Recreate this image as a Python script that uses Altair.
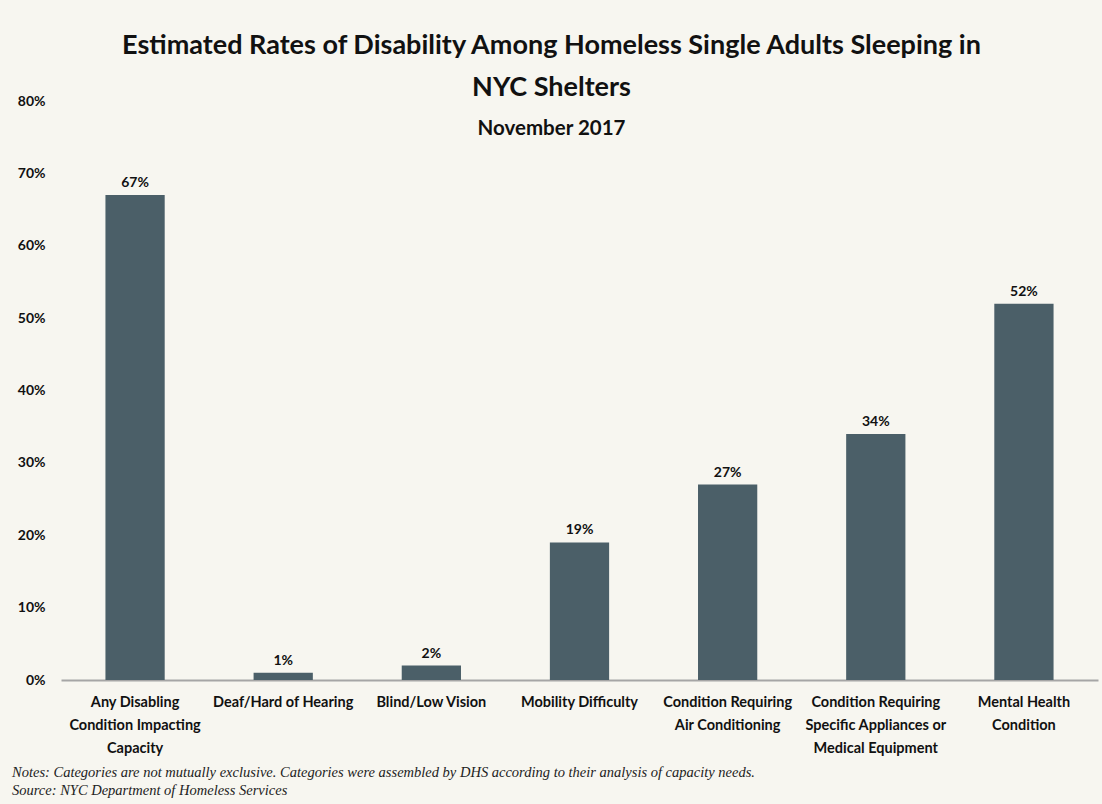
import altair as alt
import pandas as pd

categories = [
    ["Any Disabling", "Condition Impacting", "Capacity"],
    ["Deaf/Hard of Hearing"],
    ["Blind/Low Vision"],
    ["Mobility Difficulty"],
    ["Condition Requiring", "Air Conditioning"],
    ["Condition Requiring", "Specific Appliances or", "Medical Equipment"],
    ["Mental Health", "Condition"],
]
values = [0.67, 0.01, 0.02, 0.19, 0.27, 0.34, 0.52]
y_ticks = [0, 0.1, 0.2, 0.3, 0.4, 0.5, 0.6, 0.7, 0.8]
note_lines = [
    "Notes: Categories are not mutually exclusive. Categories were assembled by DHS according to their analysis of capacity needs.",
    "Source: NYC Department of Homeless Services",
]

keys = [" ".join(c) for c in categories]
label_map = {" ".join(c): c for c in categories}
df = pd.DataFrame({"cat": keys, "val": values})

label_expr = "{" + ",".join(
    '"%s":[%s]' % (k, ",".join('"%s"' % s for s in v)) for k, v in label_map.items()
) + "}[datum.value]"

FONT = "Lato"
BAR = "#4b5f68"
BG = "#f7f6f0"

x = alt.X(
    "cat:N",
    sort=keys,
    title=None,
    scale=alt.Scale(paddingInner=0.6, paddingOuter=0.3),
    axis=alt.Axis(
        labelExpr=label_expr,
        labelAngle=0,
        labelFont=FONT,
        labelFontWeight="bold",
        labelFontSize=14.5,
        labelColor="#111111",
        labelLineHeight=23,
        labelPadding=15,
        labelLimit=0,
        ticks=False,
        domainColor="#a6a6a6",
        domainWidth=2,
    ),
)
y = alt.Y(
    "val:Q",
    title=None,
    scale=alt.Scale(domain=[0, 0.8]),
    axis=alt.Axis(
        values=y_ticks,
        format=".0%",
        grid=False,
        domain=False,
        ticks=False,
        labelFont=FONT,
        labelFontWeight="bold",
        labelFontSize=14,
        labelColor="#111111",
        labelPadding=16,
    ),
)

base = alt.Chart(df)
bars = base.mark_bar(color=BAR).encode(x=x, y=y)
text = base.mark_text(
    font=FONT, fontWeight="bold", fontSize=14, color="#111111", dy=-12
).encode(x=alt.X("cat:N", sort=keys), y="val:Q", text=alt.Text("val:Q", format=".0%"))

note_layers = []
for i, line in enumerate(note_lines):
    note_layers.append(
        alt.Chart(pd.DataFrame({"t": [line]})).mark_text(
            font="Liberation Serif", fontStyle="italic", fontSize=14.5, color="#222222",
            align="left", baseline="middle",
        ).encode(text="t:N", x=alt.value(-49), y=alt.value(672 + 18 * i))
    )

chart = alt.layer(bars, text, *note_layers).properties(
    width=1037,
    height=579,
    background=BG,
    padding={"left": 61, "top": 101, "right": 4, "bottom": 124},
    autosize=alt.AutoSizeParams(type="none"),
    title=alt.TitleParams(
        text=["Estimated Rates of Disability Among Homeless Single Adults Sleeping in", "NYC Shelters"],
        subtitle="November 2017",
        font=FONT,
        fontSize=27,
        fontWeight="bold",
        color="#111111",
        lineHeight=42,
        subtitleFont=FONT,
        subtitleFontSize=20.5,
        subtitleFontWeight="bold",
        subtitleColor="#111111",
        subtitlePadding=17,
        anchor="middle",
        dx=-28,
        offset=-46,
        baseline="top",
    ),
).configure_view(stroke=None)

chart.save("out.html", embed_options={"renderer": "svg", "actions": False})
